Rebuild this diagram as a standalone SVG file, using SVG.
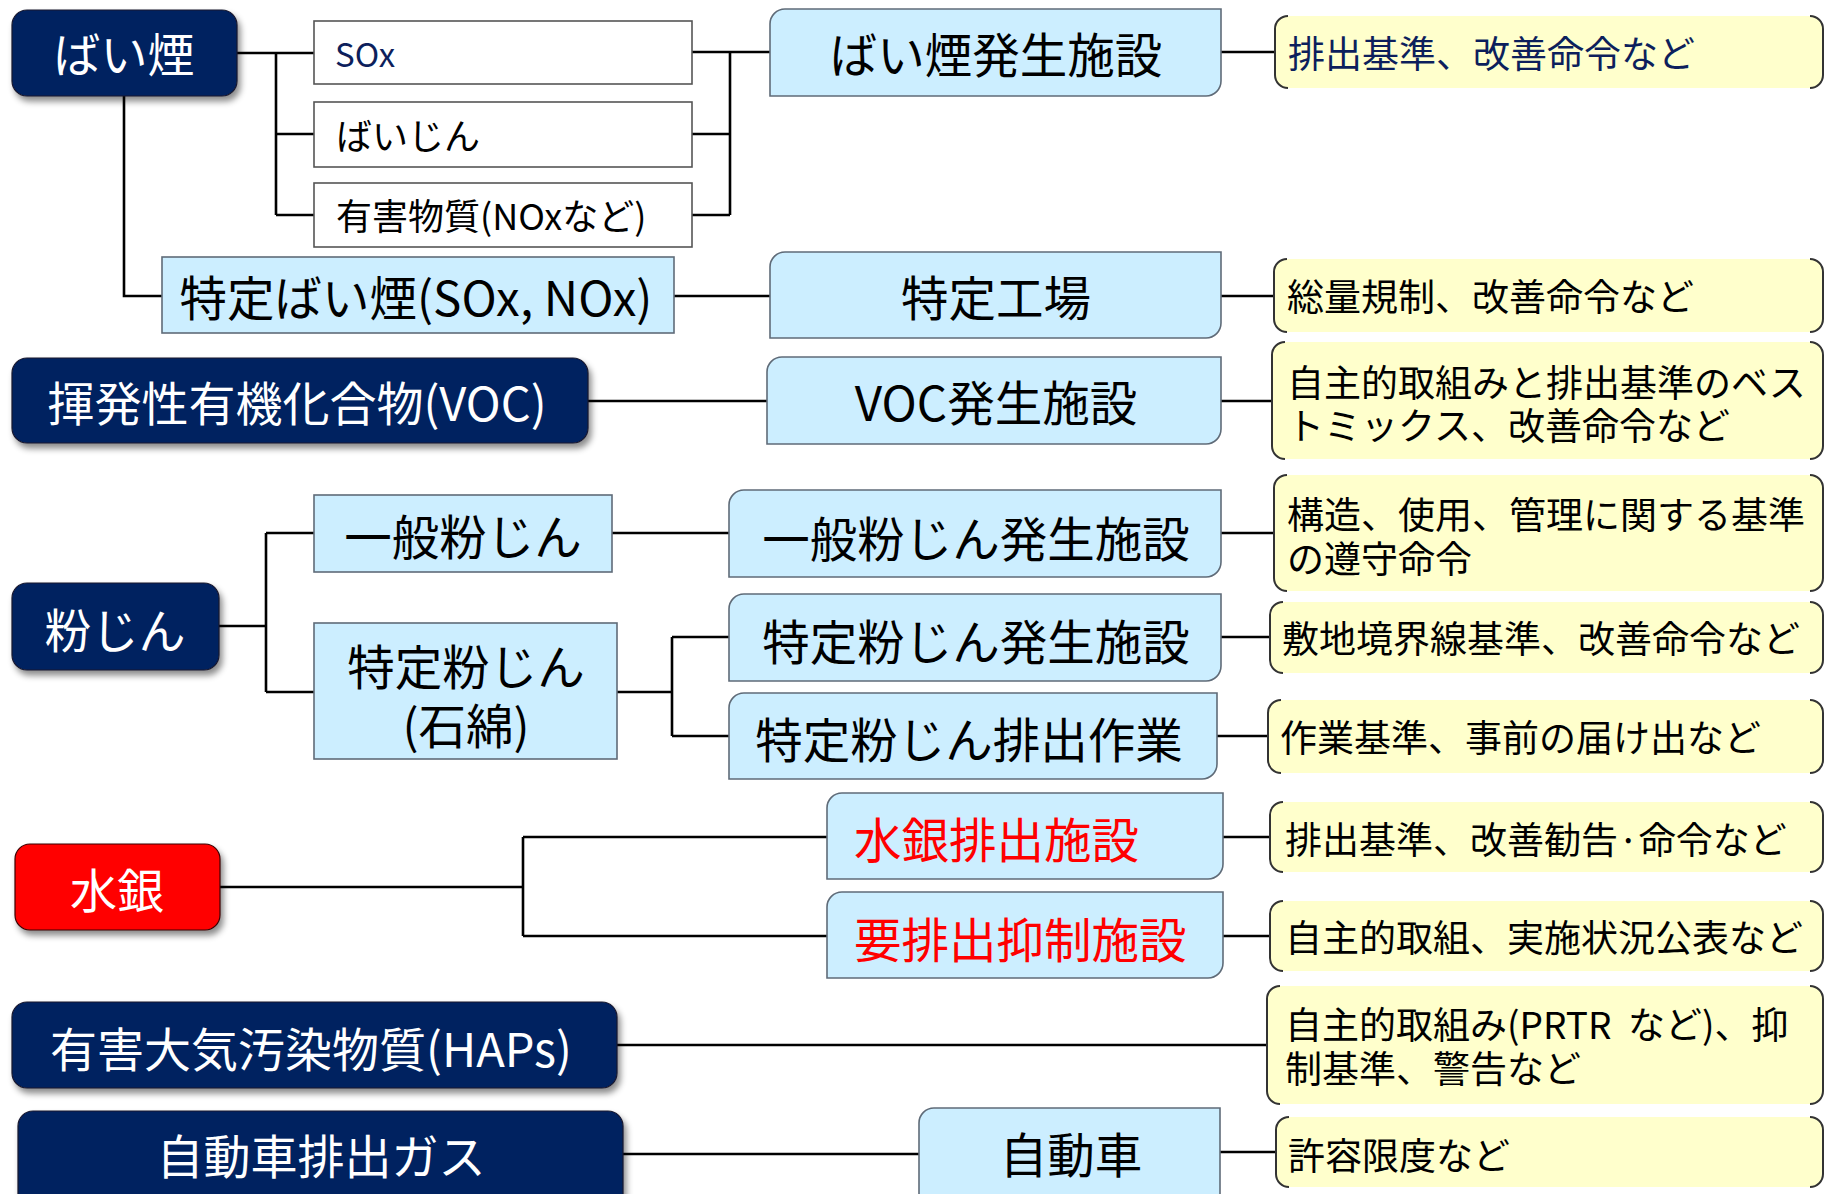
<svg xmlns="http://www.w3.org/2000/svg" width="1825" height="1194" viewBox="0 0 1825 1194">
<defs>
<filter id="sh" x="-10%" y="-20%" width="130%" height="150%">
<feDropShadow dx="3" dy="5" stdDeviation="3" flood-color="#000" flood-opacity="0.45"/>
</filter>
<style>
text{font-family:"Noto Sans CJK JP","Noto Sans CJK SC",sans-serif;}
.dark{fill:#002060;stroke:#1a1a2e;stroke-width:1.2;}
.red{fill:#ff0000;stroke:#3a0000;stroke-width:1.2;}
.wbox{fill:#ffffff;stroke:#555;stroke-width:1.6;}
.bbox{fill:#cceeff;stroke:#5f6b78;stroke-width:1.6;}
.yfill{fill:#ffffcc;stroke:none;}
.brk{fill:none;stroke:#333;stroke-width:2;}
.wt{fill:#ffffff;font-size:47px;}
.bt{fill:#000;font-size:47.5px;}
.rt{fill:#ff0000;font-size:47.5px;}
.st{fill:#000;font-size:36px;}
.yt{fill:#000;font-size:37px;}
.nv{fill:#0d1f5c;}
.c{text-anchor:middle;}
#connectors path{fill:none;stroke:#000;stroke-width:2.6;}
</style>
</defs>
<rect x="0" y="0" width="1825" height="1194" fill="#ffffff"/>

<g id="connectors">
<path d="M237,53 H314 M276,53 V215 M276,134 H314 M276,215 H314"/>
<path d="M124,96 V296 H162"/>
<path d="M692,52 H730 M692,134 H730 M692,215 H730 M730,52 V215 M730,52 H770"/>
<path d="M674,296 H770"/>
<path d="M1221,52 H1275 M1221,296 H1274 M1221,401 H1272 M1221,533 H1274 M1221,637 H1270 M1217,736 H1268 M1223,837 H1270 M1223,936 H1270 M1220,1152 H1276"/>
<path d="M588,401 H767"/>
<path d="M612,533 H729"/>
<path d="M219,626 H266 M266,533 V692 M266,533 H314 M266,692 H314"/>
<path d="M617,692 H672 M672,637 V736 M672,637 H729 M672,736 H729"/>
<path d="M220,887 H523 M523,837 V936 M523,837 H827 M523,936 H827"/>
<path d="M617,1045 H1267"/>
<path d="M623,1154 H919"/>
</g>

<g id="n-baien">
<rect class="dark" x="12" y="10" width="225" height="86" rx="15" filter="url(#sh)"/>
<text class="wt c" x="124" y="72">ばい煙</text>
</g>
<g id="n-sox">
<rect class="wbox" x="314" y="21" width="378" height="63"/>
<text class="nv" x="335" y="67" font-size="33">SOx</text>
</g>
<g id="n-baijin">
<rect class="wbox" x="314" y="102" width="378" height="65"/>
<text class="st" x="336" y="150">ばいじん</text>
</g>
<g id="n-yugai">
<rect class="wbox" x="314" y="183" width="378" height="64"/>
<text class="st" x="336" y="230">有害物質(NOxなど)</text>
</g>
<g id="n-tokutei-baien">
<rect class="bbox" x="162" y="257" width="512" height="76"/>
<text class="bt c" x="416" y="316" font-size="45">特定ばい煙(SOx, NOx)</text>
</g>
<g id="n-baien-shisetsu">
<path class="bbox" d="M785,9 H1221 V81 A15,15 0 0 1 1206,96 H770 V24 A15,15 0 0 1 785,9 Z"/>
<text class="bt c" x="996" y="73">ばい煙発生施設</text>
</g>
<g id="n-tokutei-kojo">
<path class="bbox" d="M785,252 H1221 V323 A15,15 0 0 1 1206,338 H770 V267 A15,15 0 0 1 785,252 Z"/>
<text class="bt c" x="996" y="316">特定工場</text>
</g>
<g id="n-voc">
<rect class="dark" x="12" y="358" width="576" height="85" rx="15" filter="url(#sh)"/>
<text class="wt c" x="297" y="421">揮発性有機化合物(VOC)</text>
</g>
<g id="n-voc-shisetsu">
<path class="bbox" d="M782,357 H1221 V429 A15,15 0 0 1 1206,444 H767 V372 A15,15 0 0 1 782,357 Z"/>
<text class="bt c" x="996" y="421">VOC発生施設</text>
</g>
<g id="n-funjin">
<rect class="dark" x="12" y="583" width="207" height="87" rx="15" filter="url(#sh)"/>
<text class="wt c" x="115" y="648">粉じん</text>
</g>
<g id="n-ippan">
<rect class="bbox" x="314" y="495" width="298" height="77"/>
<text class="bt c" x="463" y="555">一般粉じん</text>
</g>
<g id="n-tokutei-funjin">
<rect class="bbox" x="314" y="623" width="303" height="136"/>
<text class="bt c"><tspan x="466" y="685">特定粉じん</tspan><tspan x="466" y="744">(石綿)</tspan></text>
</g>
<g id="n-ippan-shisetsu">
<path class="bbox" d="M744,490 H1221 V562 A15,15 0 0 1 1206,577 H729 V505 A15,15 0 0 1 744,490 Z"/>
<text class="bt c" x="976" y="557">一般粉じん発生施設</text>
</g>
<g id="n-tokutei-shisetsu">
<path class="bbox" d="M744,594 H1221 V666 A15,15 0 0 1 1206,681 H729 V609 A15,15 0 0 1 744,594 Z"/>
<text class="bt c" x="976" y="660">特定粉じん発生施設</text>
</g>
<g id="n-tokutei-sagyo">
<path class="bbox" d="M744,693 H1217 V764 A15,15 0 0 1 1202,779 H729 V708 A15,15 0 0 1 744,693 Z"/>
<text class="bt c" x="969" y="758">特定粉じん排出作業</text>
</g>
<g id="n-suigin">
<rect class="red" x="15" y="844" width="205" height="86" rx="15" filter="url(#sh)"/>
<text class="wt c" x="117" y="908">水銀</text>
</g>
<g id="n-suigin-shisetsu">
<path class="bbox" d="M842,793 H1223 V864 A15,15 0 0 1 1208,879 H827 V808 A15,15 0 0 1 842,793 Z"/>
<text class="rt" x="854" y="858">水銀排出施設</text>
</g>
<g id="n-yo-shisetsu">
<path class="bbox" d="M842,892 H1223 V963 A15,15 0 0 1 1208,978 H827 V907 A15,15 0 0 1 842,892 Z"/>
<text class="rt" x="854" y="958">要排出抑制施設</text>
</g>
<g id="n-haps">
<rect class="dark" x="12" y="1002" width="605" height="86" rx="15" filter="url(#sh)"/>
<text class="wt c" x="311" y="1067">有害大気汚染物質(HAPs)</text>
</g>
<g id="n-jidosha-gas">
<rect class="dark" x="18" y="1111" width="605" height="100" rx="15" filter="url(#sh)"/>
<text class="wt c" x="321" y="1174">自動車排出ガス</text>
</g>
<g id="n-jidosha">
<path class="bbox" d="M934,1108 H1220 V1210 H919 V1123 A15,15 0 0 1 934,1108 Z"/>
<text class="bt c" x="1071" y="1173">自動車</text>
</g>

<g id="r1">
<rect class="yfill" x="1275" y="16" width="548" height="72" rx="13"/>
<path class="brk" d="M1288,16 A13,13 0 0 0 1275,29 V75 A13,13 0 0 0 1288,88 M1810,16 A13,13 0 0 1 1823,29 V75 A13,13 0 0 1 1810,88"/>
<text class="yt nv" x="1288" y="68">排出基準、改善命令など</text>
</g>
<g id="r2">
<rect class="yfill" x="1274" y="259" width="549" height="73" rx="13"/>
<path class="brk" d="M1287,259 A13,13 0 0 0 1274,272 V319 A13,13 0 0 0 1287,332 M1810,259 A13,13 0 0 1 1823,272 V319 A13,13 0 0 1 1810,332"/>
<text class="yt" x="1287" y="311">総量規制、改善命令など</text>
</g>
<g id="r3">
<rect class="yfill" x="1272" y="342" width="551" height="117" rx="13"/>
<path class="brk" d="M1285,342 A13,13 0 0 0 1272,355 V446 A13,13 0 0 0 1285,459 M1810,342 A13,13 0 0 1 1823,355 V446 A13,13 0 0 1 1810,459"/>
<text class="yt"><tspan x="1287" y="397">自主的取組みと排出基準のベス</tspan><tspan x="1287" y="440">トミックス、改善命令など</tspan></text>
</g>
<g id="r4">
<rect class="yfill" x="1274" y="475" width="549" height="116" rx="13"/>
<path class="brk" d="M1287,475 A13,13 0 0 0 1274,488 V578 A13,13 0 0 0 1287,591 M1810,475 A13,13 0 0 1 1823,488 V578 A13,13 0 0 1 1810,591"/>
<text class="yt"><tspan x="1287" y="529">構造、使用、管理に関する基準</tspan><tspan x="1287" y="573">の遵守命令</tspan></text>
</g>
<g id="r5">
<rect class="yfill" x="1270" y="602" width="553" height="71" rx="13"/>
<path class="brk" d="M1283,602 A13,13 0 0 0 1270,615 V660 A13,13 0 0 0 1283,673 M1810,602 A13,13 0 0 1 1823,615 V660 A13,13 0 0 1 1810,673"/>
<text class="yt" x="1282" y="653">敷地境界線基準、改善命令など</text>
</g>
<g id="r6">
<rect class="yfill" x="1268" y="700" width="555" height="73" rx="13"/>
<path class="brk" d="M1281,700 A13,13 0 0 0 1268,713 V760 A13,13 0 0 0 1281,773 M1810,700 A13,13 0 0 1 1823,713 V760 A13,13 0 0 1 1810,773"/>
<text class="yt" x="1280" y="752">作業基準、事前の届け出など</text>
</g>
<g id="r7">
<rect class="yfill" x="1270" y="802" width="553" height="70" rx="13"/>
<path class="brk" d="M1283,802 A13,13 0 0 0 1270,815 V859 A13,13 0 0 0 1283,872 M1810,802 A13,13 0 0 1 1823,815 V859 A13,13 0 0 1 1810,872"/>
<text class="yt" x="1285" y="854">排出基準、改善勧告·命令など</text>
</g>
<g id="r8">
<rect class="yfill" x="1270" y="901" width="553" height="70" rx="13"/>
<path class="brk" d="M1283,901 A13,13 0 0 0 1270,914 V958 A13,13 0 0 0 1283,971 M1810,901 A13,13 0 0 1 1823,914 V958 A13,13 0 0 1 1810,971"/>
<text class="yt" x="1285" y="952">自主的取組、実施状況公表など</text>
</g>
<g id="r9">
<rect class="yfill" x="1267" y="986" width="556" height="118" rx="13"/>
<path class="brk" d="M1280,986 A13,13 0 0 0 1267,999 V1091 A13,13 0 0 0 1280,1104 M1810,986 A13,13 0 0 1 1823,999 V1091 A13,13 0 0 1 1810,1104"/>
<text class="yt" xml:space="preserve"><tspan x="1285" y="1039">自主的取組み(PRTR  など)、抑</tspan><tspan x="1285" y="1083">制基準、警告など</tspan></text>
</g>
<g id="r10">
<rect class="yfill" x="1276" y="1117" width="547" height="70" rx="13"/>
<path class="brk" d="M1289,1117 A13,13 0 0 0 1276,1130 V1174 A13,13 0 0 0 1289,1187 M1810,1117 A13,13 0 0 1 1823,1130 V1174 A13,13 0 0 1 1810,1187"/>
<text class="yt" x="1288" y="1170">許容限度など</text>
</g>
</svg>
